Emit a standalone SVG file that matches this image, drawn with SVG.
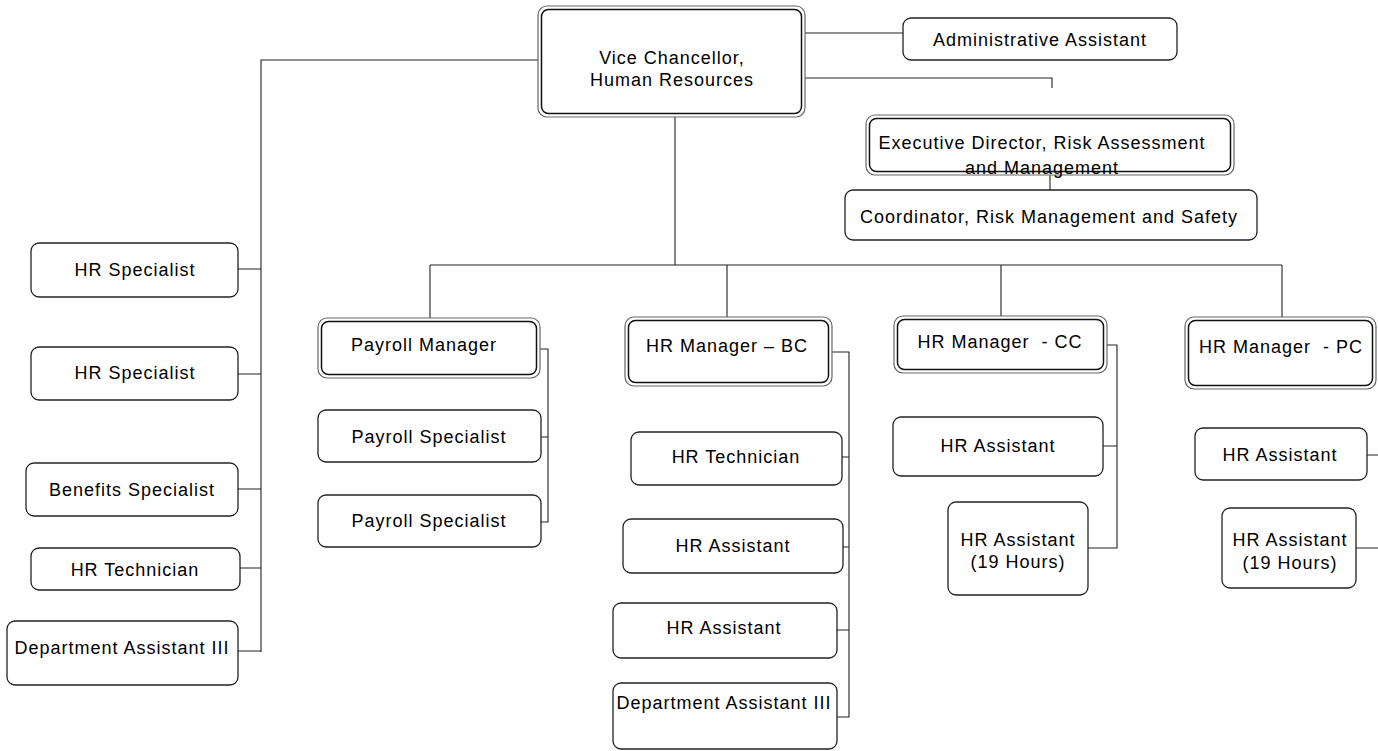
<svg xmlns="http://www.w3.org/2000/svg" width="1378" height="751" viewBox="0 0 1378 751">
<style>
.b{fill:#fff;stroke:#222;stroke-width:1.3}
.o{fill:#fff;stroke:#666;stroke-width:1.2}
.i{fill:none;stroke:#111;stroke-width:1.5}
.t{font-family:"Liberation Sans",Arial,sans-serif;font-size:18px;letter-spacing:1px;fill:#000;text-anchor:middle}
.c{fill:none;stroke:#222;stroke-width:1.1}
</style>
<rect width="1378" height="751" fill="#fff"/>
<g id="connectors">
<path class="c" d="M538,60H261V652"/>
<path class="c" d="M238,269H261M238,374H261M238,489H261M240,568H261M238,651H261"/>
<path class="c" d="M805,33H903"/>
<path class="c" d="M805,78H1052V88"/>
<path class="c" d="M1050,175V190"/>
<path class="c" d="M675,117V265M430,265H1282M430,265V318M727,265V317M1001,265V316M1282,265V317"/>
<path class="c" d="M540,349H548V522H541M541,437H548"/>
<path class="c" d="M832,352H849V717H837M842,457H849M843,547H849M837,630H849"/>
<path class="c" d="M1107,345H1117V548H1088M1103,446H1117"/>
<path class="c" d="M1367,455H1378M1356,548H1378"/>
</g>
<g id="vc">
<rect class="o" x="538" y="6" width="267" height="111" rx="9"/>
<rect class="i" x="541.5" y="9.5" width="260" height="104" rx="7"/>
<text class="t" x="672" y="64">Vice Chancellor,</text>
<text class="t" x="672" y="86">Human Resources</text>
</g>
<g id="admin">
<rect class="b" x="903" y="18" width="274" height="42" rx="8"/>
<text class="t" x="1040" y="46">Administrative Assistant</text>
</g>
<g id="exec">
<rect class="o" x="866" y="115" width="368" height="60" rx="9"/>
<rect class="i" x="869.5" y="118.5" width="361" height="53" rx="7"/>
<text class="t" x="1042" y="149">Executive Director, Risk Assessment</text>
<text class="t" x="1042" y="174">and Management</text>
</g>
<g id="coord">
<rect class="b" x="845" y="190" width="412" height="50" rx="8"/>
<text class="t" x="1049" y="223">Coordinator, Risk Management and Safety</text>
</g>
<g id="hrspec1">
<rect class="b" x="31" y="243" width="207" height="54" rx="8"/>
<text class="t" x="135" y="276">HR Specialist</text>
</g>
<g id="hrspec2">
<rect class="b" x="31" y="347" width="207" height="53" rx="8"/>
<text class="t" x="135" y="379">HR Specialist</text>
</g>
<g id="benefits">
<rect class="b" x="26" y="463" width="212" height="53" rx="8"/>
<text class="t" x="132" y="496">Benefits Specialist</text>
</g>
<g id="hrtech-left">
<rect class="b" x="31" y="548" width="209" height="42" rx="8"/>
<text class="t" x="135" y="576">HR Technician</text>
</g>
<g id="deptasst-left">
<rect class="b" x="7" y="621" width="231" height="64" rx="8"/>
<text class="t" x="122" y="654">Department Assistant III</text>
</g>
<g id="payroll-mgr">
<rect class="o" x="318" y="318" width="222" height="60" rx="9"/>
<rect class="i" x="321.5" y="321.5" width="215" height="53" rx="7"/>
<text class="t" x="424" y="351">Payroll Manager</text>
</g>
<g id="payroll-spec1">
<rect class="b" x="318" y="410" width="223" height="52" rx="8"/>
<text class="t" x="429" y="443">Payroll Specialist</text>
</g>
<g id="payroll-spec2">
<rect class="b" x="318" y="495" width="223" height="52" rx="8"/>
<text class="t" x="429" y="527">Payroll Specialist</text>
</g>
<g id="hrmgr-bc">
<rect class="o" x="625" y="317" width="207" height="69" rx="9"/>
<rect class="i" x="628.5" y="320.5" width="200" height="62" rx="7"/>
<text class="t" x="727" y="352">HR Manager – BC</text>
</g>
<g id="hrtech-bc">
<rect class="b" x="631" y="432" width="211" height="53" rx="8"/>
<text class="t" x="736" y="463">HR Technician</text>
</g>
<g id="hrasst1-bc">
<rect class="b" x="623" y="519" width="220" height="54" rx="8"/>
<text class="t" x="733" y="552">HR Assistant</text>
</g>
<g id="hrasst2-bc">
<rect class="b" x="613" y="603" width="224" height="55" rx="8"/>
<text class="t" x="724" y="634">HR Assistant</text>
</g>
<g id="deptasst-bc">
<rect class="b" x="613" y="683" width="224" height="66" rx="8"/>
<text class="t" x="724" y="709">Department Assistant III</text>
</g>
<g id="hrmgr-cc">
<rect class="o" x="894" y="316" width="213" height="57" rx="9"/>
<rect class="i" x="897.5" y="319.5" width="206" height="50" rx="7"/>
<text class="t" x="1000" y="348" xml:space="preserve">HR Manager  - CC</text>
</g>
<g id="hrasst-cc">
<rect class="b" x="893" y="417" width="210" height="59" rx="8"/>
<text class="t" x="998" y="452">HR Assistant</text>
</g>
<g id="hrasst19-cc">
<rect class="b" x="948" y="502" width="140" height="93" rx="8"/>
<text class="t" x="1018" y="546">HR Assistant</text>
<text class="t" x="1018" y="568">(19 Hours)</text>
</g>
<g id="hrmgr-pc">
<rect class="o" x="1185" y="317" width="191" height="72" rx="9"/>
<rect class="i" x="1188.5" y="320.5" width="184" height="65" rx="7"/>
<text class="t" x="1281" y="353" xml:space="preserve">HR Manager  - PC</text>
</g>
<g id="hrasst-pc">
<rect class="b" x="1195" y="428" width="172" height="52" rx="8"/>
<text class="t" x="1280" y="461">HR Assistant</text>
</g>
<g id="hrasst19-pc">
<rect class="b" x="1222" y="508" width="134" height="80" rx="8"/>
<text class="t" x="1290" y="546">HR Assistant</text>
<text class="t" x="1290" y="569">(19 Hours)</text>
</g>
</svg>
